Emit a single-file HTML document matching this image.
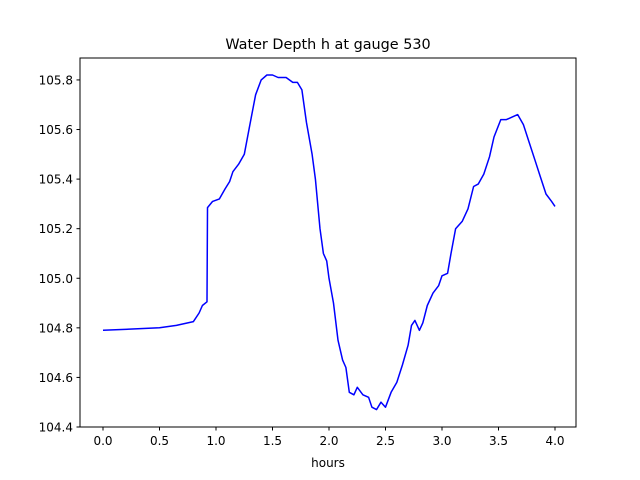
<!DOCTYPE html>
<html><head><meta charset="utf-8"><style>
body{margin:0;background:#fff;}
svg{display:block;font-family:"DejaVu Sans","Liberation Sans",sans-serif;}
</style></head><body>
<svg id="chart" width="640" height="480" xmlns="http://www.w3.org/2000/svg">
<rect width="640" height="480" fill="#fff"/>
<text x="328" y="49" font-size="14.4" text-anchor="middle">Water Depth h at gauge 530</text>
<g id="xt"></g>
<g id="yt"></g>
<path id="line" fill="none" stroke="#0000ff" stroke-width="1.5" stroke-linejoin="round"/>
<rect x="80" y="58" width="496" height="369" fill="none" stroke="#000" stroke-width="1"/>
<text x="328" y="467" font-size="12" text-anchor="middle">hours</text>
</svg>
<script>
const hours=[0,0.5,0.65,0.8,0.85,0.88,0.92,0.925,0.97,1.03,1.08,1.12,1.15,1.2,1.25,1.3,1.35,1.4,1.45,1.5,1.55,1.62,1.68,1.72,1.76,1.8,1.85,1.88,1.92,1.95,1.98,2.0,2.04,2.08,2.12,2.15,2.18,2.22,2.25,2.3,2.35,2.38,2.42,2.46,2.5,2.55,2.6,2.65,2.7,2.73,2.76,2.8,2.83,2.87,2.92,2.97,3.0,3.05,3.08,3.12,3.18,3.23,3.28,3.32,3.37,3.42,3.46,3.52,3.57,3.62,3.67,3.72,3.77,3.82,3.87,3.92,3.97,4.0];
const depth=[104.79,104.80,104.81,104.825,104.86,104.89,104.905,105.285,105.31,105.32,105.36,105.39,105.43,105.46,105.50,105.62,105.74,105.8,105.82,105.82,105.81,105.81,105.79,105.79,105.76,105.63,105.5,105.40,105.2,105.10,105.07,105.0,104.9,104.75,104.67,104.64,104.54,104.53,104.56,104.53,104.52,104.48,104.47,104.5,104.48,104.54,104.58,104.65,104.73,104.81,104.83,104.79,104.82,104.89,104.94,104.97,105.01,105.02,105.1,105.2,105.23,105.28,105.37,105.38,105.42,105.49,105.57,105.64,105.64,105.65,105.66,105.62,105.55,105.48,105.41,105.34,105.31,105.29];
const xTicks=[0,0.5,1,1.5,2,2.5,3,3.5,4];
const xTickLabels=["0.0","0.5","1.0","1.5","2.0","2.5","3.0","3.5","4.0"];
const yTicks=[104.4,104.6,104.8,105.0,105.2,105.4,105.6,105.8];
const yTickLabels=["104.4","104.6","104.8","105.0","105.2","105.4","105.6","105.8"];
const NS="http://www.w3.org/2000/svg";
const xs=h=>103+h*113;
const ys=v=>427-(v-104.4)*247.9;
const xt=document.getElementById('xt'),yt=document.getElementById('yt');
xTicks.forEach((t,i)=>{
 const l=document.createElementNS(NS,'line');
 
 
 l.setAttribute('x1',xs(t));l.setAttribute('x2',xs(t));l.setAttribute('y1',427);l.setAttribute('y2',430.5);l.setAttribute('stroke','#000');
 xt.appendChild(l);
 const tx=document.createElementNS(NS,'text');
 
 
 tx.setAttribute('x',xs(t));tx.setAttribute('y',445);tx.setAttribute('font-size','12');tx.setAttribute('text-anchor','middle');
 tx.textContent=xTickLabels[i];xt.appendChild(tx);
});
yTicks.forEach((t,i)=>{
 const l=document.createElementNS(NS,'line');
 
 
 l.setAttribute('x1',76.5);l.setAttribute('x2',80);l.setAttribute('y1',ys(t));l.setAttribute('y2',ys(t));l.setAttribute('stroke','#000');
 yt.appendChild(l);
 const tx=document.createElementNS(NS,'text');
 
 
 tx.setAttribute('x',73);tx.setAttribute('y',ys(t)+4.5);tx.setAttribute('font-size','12');tx.setAttribute('text-anchor','end');
 tx.textContent=yTickLabels[i];yt.appendChild(tx);
});
document.getElementById('line').setAttribute('d',hours.map((h,i)=>(i?'L':'M')+xs(h).toFixed(1)+','+ys(depth[i]).toFixed(1)).join(''));
</script>
</body></html>
